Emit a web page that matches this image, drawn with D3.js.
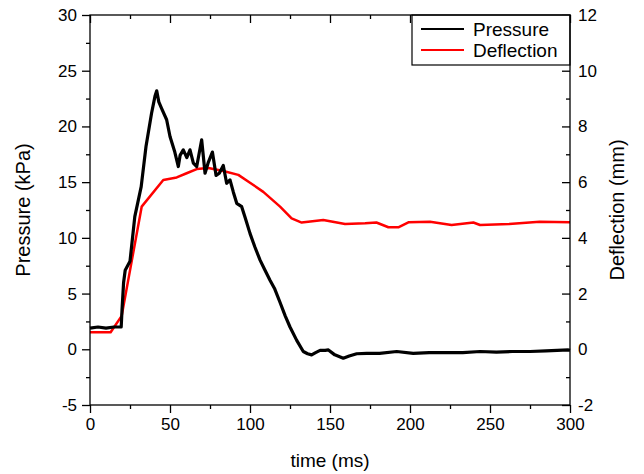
<!DOCTYPE html>
<html>
<head>
<meta charset="utf-8">
<script src="https://cdn.jsdelivr.net/npm/d3@7"></script>
<style>
  body { margin: 0; background: #fff; }
  svg text { font-family: "Liberation Sans", Arial, sans-serif; fill: #000; }
  .axis line { stroke: #000; stroke-width: 1.3; }
  .axis text { font-size: 17px; }
</style>
</head>
<body>
<div id="chart"></div>
<script>
// pressure trace (kPa) vs time (ms)
var pressureTime = [0,5,10,15,19.5,20,21,22,25,28,32,35,38.5,40.6,41.7,43,44.8,47.9,50,53,55.2,56.3,58.3,60.5,62.5,64.6,66.7,69.8,71.9,74,76.5,78.8,80.8,83.3,85.4,87.5,89.6,91.7,94.8,97,100,103,106.3,109,112.5,115.5,118.8,122,125,129.2,133.3,136,138.5,141,143.8,147,149,153,158.3,162,166.7,172.9,181,191.7,202,212,223,233,243.8,254,264,275,285,299,300];
var pressureVal = [1.9,2.0,1.9,2.0,2.0,3.5,6.0,7.1,7.9,11.9,14.6,18.2,21.2,22.7,23.2,22.2,21.6,20.6,19.1,17.7,16.4,17.4,17.9,17.2,17.9,16.7,16.4,18.8,15.8,16.8,17.7,15.6,15.8,16.5,14.9,15.2,14.1,13.1,12.8,11.8,10.4,9.2,8.0,7.2,6.2,5.4,4.2,3.0,2.0,0.8,-0.2,-0.4,-0.5,-0.3,-0.1,-0.1,-0.06,-0.5,-0.8,-0.6,-0.4,-0.36,-0.36,-0.2,-0.36,-0.3,-0.3,-0.3,-0.2,-0.25,-0.2,-0.2,-0.15,-0.06,-0.1];

// deflection (mm) vs time (ms)
var deflTime = [0,12.9,19.8,32.3,45.8,54.2,60.4,66.7,74,83.3,92.7,100,108.3,118.8,126,132.3,145.8,159.4,172,179,186.5,192.7,199,212.5,226,239.6,243.8,262,281,300];
var deflVal = [0.61,0.61,1.2,5.12,6.08,6.17,6.32,6.47,6.51,6.4,6.26,5.98,5.65,5.12,4.7,4.55,4.64,4.5,4.52,4.55,4.38,4.38,4.56,4.58,4.46,4.55,4.46,4.5,4.58,4.56];

var xTicks = [0,50,100,150,200,250,300];
var xMinor = [25,75,125,175,225,275];
var yLeftTicks = [-5,0,5,10,15,20,25,30];
var yLeftMinor = [-2.5,2.5,7.5,12.5,17.5,22.5,27.5];
var yRightTicks = [-2,0,2,4,6,8,10,12];
var yRightMinor = [-1,1,3,5,7,9,11];
var legendNames = ['Pressure', 'Deflection'];
var legendColors = ['#000', '#ff0000'];

var width = 644, height = 474;
var margin = {top: 15, right: 74, bottom: 69, left: 90};
var plotW = width - margin.left - margin.right,
    plotH = height - margin.top - margin.bottom;

var svg = d3.select('#chart')
  .append('svg')
  .attr('width', width)
  .attr('height', height);

var g = svg.append('g')
  .attr('transform', 'translate(' + margin.left + ',' + margin.top + ')');

var x = d3.scaleLinear().domain([0, 300]).range([0, plotW]);
var yL = d3.scaleLinear().domain([-5, 30]).range([plotH, 0]);
var yR = d3.scaleLinear().domain([-2, 12]).range([plotH, 0]);

// ============== Axes ==============
function addAxis(axis, tr){
  var a = g.append('g').attr('class', 'axis').call(axis);
  if(tr) a.attr('transform', tr);
  a.select('.domain').remove();
  return a;
}

// bottom (outward ticks)
addAxis(d3.axisBottom(x).tickValues(xTicks).tickSize(8).tickPadding(5), 'translate(0,' + plotH + ')');
addAxis(d3.axisBottom(x).tickValues(xMinor).tickSize(4).tickFormat(''), 'translate(0,' + plotH + ')');
// top (inward ticks)
addAxis(d3.axisBottom(x).tickValues(xTicks).tickSize(8).tickFormat(''));
addAxis(d3.axisBottom(x).tickValues(xMinor).tickSize(4).tickFormat(''));
// left (outward ticks)
addAxis(d3.axisLeft(yL).tickValues(yLeftTicks).tickSize(8).tickPadding(5));
addAxis(d3.axisLeft(yL).tickValues(yLeftMinor).tickSize(4).tickFormat(''));
// right (inward ticks, labels outside)
var rightAx = addAxis(d3.axisLeft(yR).tickValues(yRightTicks).tickSize(8).tickFormat(d3.format('d')), 'translate(' + plotW + ',0)');
rightAx.selectAll('text').attr('x', 8).attr('text-anchor', 'start');
addAxis(d3.axisLeft(yR).tickValues(yRightMinor).tickSize(4).tickFormat(''), 'translate(' + plotW + ',0)');

// hyphen minus like the original
g.selectAll('.axis text').text(function(){ return this.textContent.replace('\u2212', '-'); });

// ============== Lines ==============
var pressureData = pressureTime.map(function(t, i){ return [t, pressureVal[i]]; });
var deflData = deflTime.map(function(t, i){ return [t, deflVal[i]]; });

g.append('path')
  .datum(deflData)
  .attr('fill', 'none')
  .attr('stroke', '#ff0000')
  .attr('stroke-width', 2.5)
  .attr('stroke-linejoin', 'round')
  .attr('d', d3.line().x(function(d){ return x(d[0]); }).y(function(d){ return yR(d[1]); }));

g.append('path')
  .datum(pressureData)
  .attr('fill', 'none')
  .attr('stroke', '#000')
  .attr('stroke-width', 3.2)
  .attr('stroke-linejoin', 'round')
  .attr('d', d3.line().x(function(d){ return x(d[0]); }).y(function(d){ return yL(d[1]); }));

// ============== Legend ==============
var legend = g.append('g').attr('transform', 'translate(' + (plotW - 158) + ',0)');
legend.append('rect')
  .attr('width', 158).attr('height', 50)
  .attr('fill', '#fff')
  .attr('stroke', '#000')
  .attr('stroke-width', 1.2);
var items = legend.selectAll('.item')
  .data(legendNames)
  .enter()
  .append('g')
  .attr('transform', function(d, i){ return 'translate(0,' + (14 + i * 21) + ')'; });
items.append('line')
  .attr('x1', 9).attr('x2', 52)
  .attr('stroke', function(d, i){ return legendColors[i]; })
  .attr('stroke-width', 2);
items.append('text')
  .attr('x', 61).attr('y', 7)
  .style('font-size', '19px')
  .text(function(d){ return d; });

// frame on top
g.append('rect')
  .attr('x', 0).attr('y', 0)
  .attr('width', plotW).attr('height', plotH)
  .attr('fill', 'none')
  .attr('stroke', '#000')
  .attr('stroke-width', 1.3);

// ============== Titles ==============
svg.append('text')
  .attr('x', margin.left + plotW / 2)
  .attr('y', 467)
  .attr('text-anchor', 'middle')
  .style('font-size', '19px')
  .text('time (ms)');

svg.append('text')
  .attr('transform', 'translate(30,' + (margin.top + plotH / 2) + ') rotate(-90)')
  .attr('text-anchor', 'middle')
  .style('font-size', '20px')
  .text('Pressure (kPa)');

svg.append('text')
  .attr('transform', 'translate(624,' + (margin.top + plotH / 2) + ') rotate(-90)')
  .attr('text-anchor', 'middle')
  .style('font-size', '20px')
  .text('Deflection (mm)');
</script>
</body>
</html>
